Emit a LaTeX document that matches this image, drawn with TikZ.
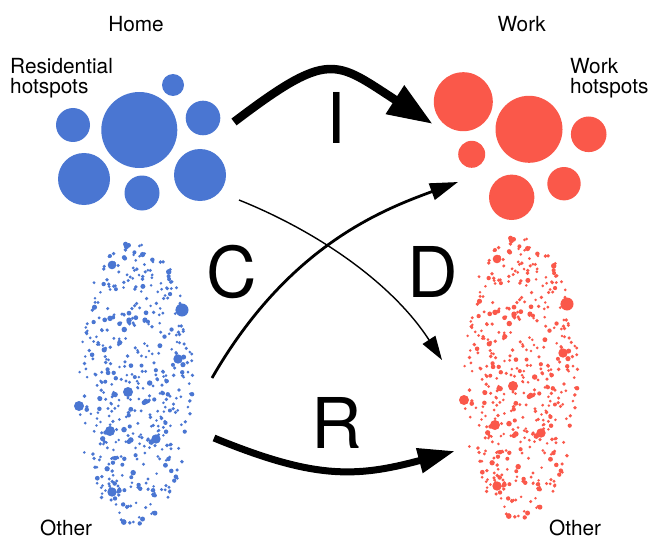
\documentclass[tikz,border=0pt]{standalone}
\usepackage{fontspec}
\setmainfont{TeX Gyre Heros}
\usetikzlibrary{arrows.meta}
\definecolor{hblue}{RGB}{74,118,210}
\definecolor{wred}{RGB}{250,88,74}
\newcommand{\mydotcloud}{%
  \pgfmathsetseed{11}%
  \foreach \i in {1,...,500}{%
    \pgfmathsetmacro\ang{360*rnd}%
    \pgfmathsetmacro\rr{sqrt(rnd)}%
    \pgfmathsetmacro\dr{1.4+1.5*rnd*rnd}%
    \pgfmathsetmacro\dx{135+58*\rr*cos(\ang)}%
    \pgfmathsetmacro\dy{383+143*\rr*sin(\ang)}%
    \fill (\dx,\dy) circle[radius=\dr pt];
  }%
  \foreach \px/\py/\pr in {112/265/4.3,182/310/6.5,178/359/4.7,128/392/5,79/406/5,110/431/5,156/439/4.7,112/492/4.7}{%
    \fill (\px,\py) circle[radius=\pr pt];
  }%
}
\tikzset{
  lbl/.style={font=\fontsize{20.8}{20.5}\selectfont, inner sep=0pt},
  bigl/.style={font=\fontsize{70}{70}\selectfont, inner sep=0pt, anchor=base},
  hspotb/.style={fill=hblue},
  hspotr/.style={fill=wred},
}
\begin{document}
\begin{tikzpicture}[x=1pt,y=-1pt]
\useasboundingbox (0,0) rectangle (652,540);
% labels
\node[lbl, anchor=base] (home) at (136,31.5) {Home};
\node[lbl, anchor=base] (work) at (521.7,31.5) {Work};
\node[lbl, align=left, anchor=base west] (reslbl) at (10,94) {Residential\\hotspots};
\node[lbl, align=left, anchor=base west] (worklbl) at (570,94) {Work\\hotspots};
\node[lbl, anchor=base west] (oth1) at (40,535.5) {Other};
\node[lbl, anchor=base west] (oth2) at (549,535.5) {Other};
% residential hotspots
\fill[hspotb] (139.3,130) circle[radius=38pt];
\fill[hspotb] (173,85) circle[radius=11pt];
\fill[hspotb] (73,125) circle[radius=17pt];
\fill[hspotb] (203,118) circle[radius=17.3pt];
\fill[hspotb] (84,179) circle[radius=26pt];
\fill[hspotb] (142,193) circle[radius=17.5pt];
\fill[hspotb] (200,175) circle[radius=26pt];
% work hotspots
\fill[hspotr] (463.3,101.7) circle[radius=29.5pt];
\fill[hspotr] (529,129.3) circle[radius=33.5pt];
\fill[hspotr] (588.7,134.3) circle[radius=17.8pt];
\fill[hspotr] (471.7,154.3) circle[radius=13.5pt];
\fill[hspotr] (511.7,197.3) circle[radius=22.7pt];
\fill[hspotr] (564,183.7) circle[radius=16.7pt];
% other clouds
\begin{scope}[fill=hblue]
  \mydotcloud
\end{scope}
\begin{scope}[fill=wred, shift={(385,-6)}]
  \mydotcloud
\end{scope}
% big letters
\node[bigl] (I) at (336.7,143) {I};
\node[bigl] (C) at (232,297.5) {C};
\node[bigl] (D) at (433,297.5) {D};
\node[bigl] (R) at (337,448) {R};
% arrow end points
\coordinate (iS) at (234,122);
\coordinate (iE) at (432.7,124);
\coordinate (cS) at (212,378);
\coordinate (cE) at (458,182);
\coordinate (dS) at (239,200);
\coordinate (dE) at (442,360);
\coordinate (rS) at (214,438);
\coordinate (rE) at (455,451);
% arrows
\draw[line width=8.5pt, -{Triangle[length=45pt,width=32pt]}] (iS) .. controls (330,49) and (335,61) .. (iE);
\draw[line width=2.8pt, -{Triangle[length=28pt,width=17pt]}] (cS) .. controls (288,246) and (382,210) .. (cE);
\draw[line width=1.4pt, -{Triangle[length=24pt,width=15pt]}] (dS) .. controls (321,233) and (393.5,285) .. (dE);
\draw[line width=7pt, -{Triangle[length=37pt,width=24pt]}] (rS) .. controls (314,479) and (355,478) .. (rE);
\end{tikzpicture}
\end{document}
